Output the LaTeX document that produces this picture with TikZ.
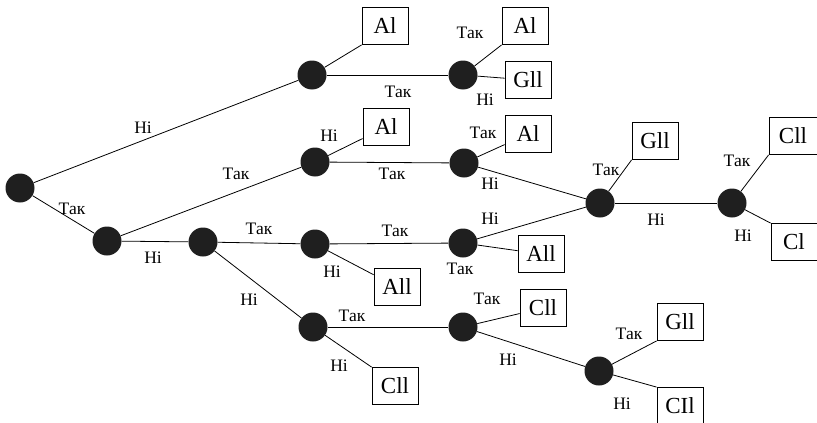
\documentclass[tikz,border=0pt]{standalone}
\usepackage{fontspec}
\setmainfont{Liberation Serif}
\usetikzlibrary{positioning}
\tikzset{
  st/.style={circle,fill=black!88,minimum size=29pt,inner sep=0pt},
  res/.style={draw,line width=0.8pt,minimum width=46pt,minimum height=37pt,inner sep=2pt,font=\fontsize{23}{23}\selectfont},
  br/.style={line width=0.8pt},
  lb/.style={inner sep=0pt,font=\fontsize{17.5}{17.5}\selectfont}
}
\newcommand{\yes}{Так}
\newcommand{\no}{Ні}

\begin{document}
\begin{tikzpicture}[x=1pt,y=-1pt]
\useasboundingbox (0,0) rectangle (817,423);
\clip (0,0) rectangle (817,423);
% decision points
\node[st] (a0) at (20,188) {};
\node[st] (a1) at (107,241) {};
\node[st] (b) at (312,75) {};
\node[st] (c) at (315,162) {};
\node[st] (d) at (203,242) {};
\node[st] (e) at (463,75) {};
\node[st] (f) at (464,163) {};
\node[st] (g) at (600,203) {};
\node[st] (h) at (732,203) {};
\node[st] (i) at (315,244) {};
\node[st] (j) at (463,243) {};
\node[st] (k) at (313,327) {};
\node[st] (l) at (463,327) {};
\node[st] (m) at (599,371) {};
% outcomes
\node[res] (rb) at (385,26) {Al};
\node[res] (re1) at (525,26) {Al};
\node[res] (re2) at (528,80) {Gll};
\node[res] (rc) at (386,127) {Al};
\node[res] (rf) at (528,134) {Al};
\node[res] (rg) at (655,141) {Gll};
\node[res,minimum width=48pt] (rh1) at (793,136) {Cll};
\node[res] (rh2) at (794,242) {Cl};
\node[res] (ri) at (397,287) {All};
\node[res] (rj) at (541,254) {All};
\node[res] (rk) at (395,386) {Cll};
\node[res] (rl) at (543,308) {Cll};
\node[res] (rm1) at (680,322) {Gll};
\node[res] (rm2) at (680,406) {CIl};
% branches
\draw[br] (a0) -- (b);
\draw[br] (a0) -- (a1);
\draw[br] (a1) -- (c);
\draw[br] (a1) -- (d);
\draw[br] (b) -- (rb.south west);
\draw[br] (b) -- (e);
\draw[br] (e) -- (re1.south west);
\draw[br] (e) -- (re2);
\draw[br] (c) -- (rc);
\draw[br] (c) -- (f);
\draw[br] (f) -- (rf);
\draw[br] (f) -- (g);
\draw[br] (g) -- (rg.south west);
\draw[br] (g) -- (h);
\draw[br] (h) -- (rh1.south west);
\draw[br] (h) -- (rh2.north west);
\draw[br] (d) -- (i);
\draw[br] (d) -- (k);
\draw[br] (i) -- (ri);
\draw[br] (i) -- (j);
\draw[br] (j) -- (rj);
\draw[br] (j) -- (g);
\draw[br] (k) -- (rk.north west);
\draw[br] (k) -- (l);
\draw[br] (l) -- (rl);
\draw[br] (l) -- (m);
\draw[br] (m) -- (rm1.south west);
\draw[br] (m) -- (rm2.north west);
% branch labels
\node[lb] (n1) at (143,128) {\no};
\node[lb] (y1) at (72,209) {\yes};
\node[lb] (y2) at (236,174) {\yes};
\node[lb] (n2) at (153,258) {\no};
\node[lb] (y3) at (398,92) {\yes};
\node[lb] (y4) at (470,33) {\yes};
\node[lb] (n3) at (485,100) {\no};
\node[lb] (n4) at (329,136) {\no};
\node[lb] (y5) at (392,174) {\yes};
\node[lb] (y6) at (483,133) {\yes};
\node[lb] (n5) at (490,184) {\no};
\node[lb] (y7) at (606,170) {\yes};
\node[lb] (n6) at (656,220) {\no};
\node[lb] (y8) at (737,161) {\yes};
\node[lb] (n7) at (743,236) {\no};
\node[lb] (y9) at (259,229) {\yes};
\node[lb] (n8) at (332,272) {\no};
\node[lb] (y10) at (395,231) {\yes};
\node[lb] (n9) at (490,219) {\no};
\node[lb] (y11) at (460,269) {\yes};
\node[lb] (n10) at (249,300) {\no};
\node[lb] (n11) at (339,366) {\no};
\node[lb] (y12) at (352,316) {\yes};
\node[lb] (y13) at (487,299) {\yes};
\node[lb] (n12) at (508,360) {\no};
\node[lb] (y14) at (629,334) {\yes};
\node[lb] (n13) at (622,404) {\no};
\end{tikzpicture}
\end{document}
